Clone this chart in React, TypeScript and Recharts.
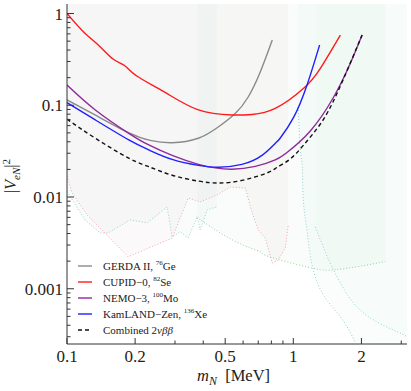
import { Area, ComposedChart, Line, XAxis, YAxis } from "recharts";

const SERIF = "'Liberation Serif', 'DejaVu Serif', serif";
const FRAME = "#333";

const X_MIN = 0.1;
const X_MAX = 3.18;
const Y_MIN = 0.00025;
const Y_MAX = 1.27;

const xTicks = [0.1, 0.2, 0.3, 0.4, 0.5, 0.6, 0.7, 0.8, 0.9, 1, 2, 3];
const xLabels = [0.1, 0.2, 0.5, 1, 2];
const yTicks = [
  0.0003, 0.0004, 0.0005, 0.0006, 0.0007, 0.0008, 0.0009,
  0.001, 0.002, 0.003, 0.004, 0.005, 0.006, 0.007, 0.008, 0.009,
  0.01, 0.02, 0.03, 0.04, 0.05, 0.06, 0.07, 0.08, 0.09,
  0.1, 0.2, 0.3, 0.4, 0.5, 0.6, 0.7, 0.8, 0.9, 1,
];
const yLabels = [0.001, 0.01, 0.1, 1];

// limits: m_N [MeV] vs |V_eN|^2
const gerdaMass = [0.1, 0.133, 0.188, 0.2329, 0.2915, 0.3803, 0.4658, 0.5538, 0.632, 0.7145, 0.8074];
const gerdaMix = [0.1142, 0.0784, 0.0499, 0.0414, 0.0391, 0.0437, 0.058, 0.0814, 0.1231, 0.2305, 0.514];

const cupidMass = [0.1, 0.1181, 0.14, 0.1603, 0.1806, 0.2034, 0.2715, 0.381, 0.5354, 0.6566, 0.832, 1.111, 1.317, 1.614];
const cupidMix = [1.0, 0.6335, 0.4349, 0.317, 0.268, 0.2085, 0.1379, 0.0889, 0.0784, 0.0794, 0.0923, 0.1532, 0.253, 0.583];

const nemoMass = [0.1, 0.1334, 0.1875, 0.2299, 0.2915, 0.381, 0.4517, 0.5354, 0.679, 0.832, 0.938, 1.189, 1.508, 1.787, 2.014];
const nemoMix = [0.166, 0.0889, 0.0495, 0.0369, 0.0284, 0.02265, 0.02075, 0.0201, 0.02154, 0.0254, 0.0306, 0.0525, 0.1231, 0.287, 0.583];

const kamlandMass = [0.1, 0.1334, 0.1875, 0.2299, 0.2915, 0.381, 0.467, 0.593, 0.727, 0.832, 0.876, 1.003, 1.15, 1.307];
const kamlandMix = [0.1067, 0.0692, 0.0419, 0.0326, 0.0257, 0.0221, 0.0211, 0.02265, 0.0284, 0.0384, 0.044, 0.0737, 0.1664, 0.454];

const combinedMass = [0.1, 0.1334, 0.1875, 0.2299, 0.2915, 0.381, 0.467, 0.593, 0.7648, 0.847, 0.97, 1.111, 1.317, 1.561, 2.014];
const combinedMix = [0.0705, 0.0437, 0.0265, 0.0214, 0.01728, 0.0149, 0.0142, 0.01517, 0.0183, 0.021, 0.026, 0.0369, 0.0625, 0.1351, 0.583];

// shaded exclusion regions (lower edges)
const pinkMass = [0.1, 0.1052, 0.1226, 0.1862, 0.2915, 0.3431, 0.3876, 0.461, 0.5264, 0.6133, 0.6586, 0.7004, 0.7512, 0.8074, 0.8583, 0.9219, 0.9504];
const pinkEdge = [0.017, 0.0111, 0.0064, 0.00223, 0.00358, 0.00978, 0.00884, 0.01054, 0.01288, 0.01257, 0.00671, 0.00438, 0.00358, 0.00191, 0.00206, 0.00279, 0.00497];

const cyanMass = [0.1, 0.1201, 0.14, 0.1518, 0.19, 0.2259, 0.277, 0.2915, 0.3162, 0.3431, 0.3761, 0.3876, 0.4164, 0.4426, 0.461];
const cyanEdge = [0.0115, 0.00563, 0.00406, 0.00406, 0.00563, 0.00522, 0.0078, 0.00367, 0.00417, 0.00358, 0.00607, 0.00438, 0.00724, 0.0076, 0.0078];

const greenMass = [0.3761, 0.3876, 0.408, 0.554, 0.7145, 0.7768, 1.2087, 1.534, 1.944, 2.553];
const greenEdge = [0.0061, 0.00563, 0.00519, 0.00328, 0.00253, 0.00225, 0.00168, 0.00161, 0.00175, 0.00198];

const tealMass = [1.052, 1.074, 1.096, 1.107, 1.153, 1.277, 1.614, 1.881];
const tealEdge = [0.0958, 0.0326, 0.0213, 0.0093, 0.00406, 0.00116, 0.000494, 0.000257];

const aquaMass = [1.2515, 1.414, 1.614, 2.04, 2.886, 3.18];
const aquaEdge = [0.00472, 0.00223, 0.00116, 0.000546, 0.000339, 0.000299];

const pts = (xs: number[], ys: number[]) => xs.map((x, i) => ({ x, y: ys[i] }));

const region = (xs: number[], lows: number[], openLeft: boolean, openRight: boolean, tail?: { x: number; lo: number }) => {
  const rows = xs.map((x, i) => ({ x, lo: lows[i], hi: Y_MAX }));
  if (openLeft) rows.unshift({ x: xs[0], lo: Y_MAX, hi: Y_MAX });
  if (tail) rows.push({ ...tail, hi: Y_MAX });
  if (openRight) rows.push({ x: rows[rows.length - 1].x, lo: Y_MAX, hi: Y_MAX });
  return rows;
};

const pinkRegion = region(pinkMass, pinkEdge, false, true);
const cyanRegion = region(cyanMass, cyanEdge, false, true);
const greenRegion = region(greenMass, greenEdge, true, true);
const tealRegion = region(tealMass, tealEdge, true, false, { x: X_MAX, lo: Y_MIN });
const aquaRegion = region(aquaMass, aquaEdge, true, false);

const rangeKey = (d: any) => [d.lo, d.hi];

const BottomTick = (props: any) => {
  const { x, y, payload } = props;
  const major = xLabels.includes(payload.value);
  return (
    <g>
      <line x1={x} x2={x} y1={y} y2={y - (major ? 6 : 3.5)} stroke={FRAME} />
      {major && (
        <text x={x} y={y + 18} textAnchor="middle" fontSize={17} fontFamily={SERIF} fill="#222">
          {payload.value}
        </text>
      )}
    </g>
  );
};

const TopTick = (props: any) => {
  const { x, y, payload } = props;
  const major = xLabels.includes(payload.value);
  return <line x1={x} x2={x} y1={y} y2={y + (major ? 6 : 3.5)} stroke={FRAME} />;
};

const LeftTick = (props: any) => {
  const { x, y, payload } = props;
  const major = yLabels.includes(payload.value);
  return (
    <g>
      <line x1={x} x2={x + (major ? 7 : 3.5)} y1={y} y2={y} stroke={FRAME} />
      {major && (
        <text x={x - 4} y={y + 6} textAnchor="end" fontSize={17} fontFamily={SERIF} fill="#222">
          {String(payload.value)}
        </text>
      )}
    </g>
  );
};

const RightTick = (props: any) => {
  const { x, y, payload } = props;
  const major = yLabels.includes(payload.value);
  return <line x1={x} x2={x - (major ? 7 : 3.5)} y1={y} y2={y} stroke={FRAME} />;
};

const legendRows = [
  { name: "GERDA II, ", iso: "76", el: "Ge", color: "#8a8a8a", dash: "" },
  { name: "CUPID−0, ", iso: "82", el: "Se", color: "#ff1a1a", dash: "" },
  { name: "NEMO−3, ", iso: "100", el: "Mo", color: "#8e2a9c", dash: "" },
  { name: "KamLAND−Zen, ", iso: "136", el: "Xe", color: "#1f1fff", dash: "" },
  { name: "Combined 2", iso: "", el: "", color: "#111", dash: "4 3" },
];

const curveProps = { type: "natural" as const, strokeWidth: 1.4, dot: false, activeDot: false, isAnimationActive: false };
const edgeProps = { strokeWidth: 1, strokeDasharray: "1 2", dot: false, activeDot: false, isAnimationActive: false };

export default function App() {
  return (
    <div style={{ position: "absolute", left: 0, top: 0, width: 411, height: 391, background: "#fff", fontFamily: SERIF }}>
      <ComposedChart width={411} height={391} margin={{ top: 4, right: 4, bottom: 0, left: 0 }}>
        <XAxis dataKey="x" type="number" scale="log" domain={[X_MIN, X_MAX]} allowDataOverflow ticks={xTicks} interval={0}
          height={47} tickSize={0} tickMargin={0} tickLine={false} axisLine={{ stroke: FRAME }} tick={BottomTick} />
        <XAxis xAxisId="top" orientation="top" dataKey="x" type="number" scale="log" domain={[X_MIN, X_MAX]} allowDataOverflow
          ticks={xTicks} interval={0} height={0} tickSize={0} tickMargin={0} tickLine={false} axisLine={{ stroke: FRAME }} tick={TopTick} />
        <YAxis type="number" scale="log" domain={[Y_MIN, Y_MAX]} allowDataOverflow ticks={yTicks} interval={0}
          width={67} tickSize={0} tickMargin={0} tickLine={false} axisLine={{ stroke: FRAME }} tick={LeftTick} />
        <YAxis yAxisId="right" orientation="right" type="number" scale="log" domain={[Y_MIN, Y_MAX]} allowDataOverflow ticks={yTicks}
          interval={0} width={0} tickSize={0} tickMargin={0} tickLine={false} axisLine={{ stroke: FRAME }} tick={RightTick} />

        <Area data={pinkRegion} dataKey={rangeKey} type="linear" stroke="none" fill="#c9939e" fillOpacity={0.05} isAnimationActive={false} />
        <Area data={cyanRegion} dataKey={rangeKey} type="linear" stroke="none" fill="#7ab8b4" fillOpacity={0.04} isAnimationActive={false} />
        <Area data={greenRegion} dataKey={rangeKey} type="linear" stroke="none" fill="#5fae7e" fillOpacity={0.04} isAnimationActive={false} />
        <Area data={tealRegion} dataKey={rangeKey} type="linear" stroke="none" fill="#7cc4b8" fillOpacity={0.04} isAnimationActive={false} />
        <Area data={aquaRegion} dataKey={rangeKey} type="linear" stroke="none" fill="#7cc4b8" fillOpacity={0.025} isAnimationActive={false} />

        <Line data={pts(cyanMass, cyanEdge)} dataKey="y" type="linear" stroke="#8fd3cb" {...edgeProps} />
        <Line data={pts(pinkMass, pinkEdge)} dataKey="y" type="linear" stroke="#f2a3b5" {...edgeProps} />
        <Line data={pts(greenMass, greenEdge)} dataKey="y" type="natural" stroke="#95d09a" {...edgeProps} />
        <Line data={pts(tealMass, tealEdge)} dataKey="y" type="natural" stroke="#8fd3cb" {...edgeProps} />
        <Line data={pts(aquaMass, aquaEdge)} dataKey="y" type="natural" stroke="#8fd3cb" {...edgeProps} />

        <Line data={pts(gerdaMass, gerdaMix)} dataKey="y" stroke="#8a8a8a" {...curveProps} />
        <Line data={pts(cupidMass, cupidMix)} dataKey="y" stroke="#ff1a1a" {...curveProps} />
        <Line data={pts(nemoMass, nemoMix)} dataKey="y" stroke="#8e2a9c" {...curveProps} />
        <Line data={pts(kamlandMass, kamlandMix)} dataKey="y" stroke="#1f1fff" {...curveProps} />
        <Line data={pts(combinedMass, combinedMix)} dataKey="y" stroke="#111" strokeDasharray="4 3" {...curveProps} />
      </ComposedChart>

      {legendRows.map((r, i) => (
        <div key={r.name} style={{ position: "absolute", left: 78, top: 258 + i * 16, height: 16, display: "flex", alignItems: "center", fontSize: 11, color: "#222", whiteSpace: "nowrap" }}>
          <svg width={14} height={4} style={{ marginRight: 11 }}>
            <line x1={0} x2={14} y1={2} y2={2} stroke={r.color} strokeWidth={1.4} strokeDasharray={r.dash || undefined} />
          </svg>
          <span>
            {r.name}
            {r.iso ? <sup style={{ fontSize: 7, lineHeight: 0 }}>{r.iso}</sup> : null}
            {r.el}
            {r.iso ? null : <i>νββ</i>}
          </span>
        </div>
      ))}

      <div style={{ position: "absolute", left: 11, top: 176, transform: "translate(-50%, -50%) rotate(-90deg)", fontSize: 16, lineHeight: "16px", color: "#222", whiteSpace: "nowrap" }}>
        |<i>V</i><sub style={{ fontSize: 11, lineHeight: 0 }}><i>eN</i></sub>|<sup style={{ fontSize: 11, lineHeight: 0 }}>2</sup>
      </div>
      <div style={{ position: "absolute", left: 197, top: 370.5, fontSize: 16.5, lineHeight: "10px", color: "#222", whiteSpace: "nowrap" }}>
        <i>m</i><sub style={{ fontSize: 12, lineHeight: 0 }}><i>N</i></sub>&nbsp;&nbsp;[MeV]
      </div>
    </div>
  );
}
